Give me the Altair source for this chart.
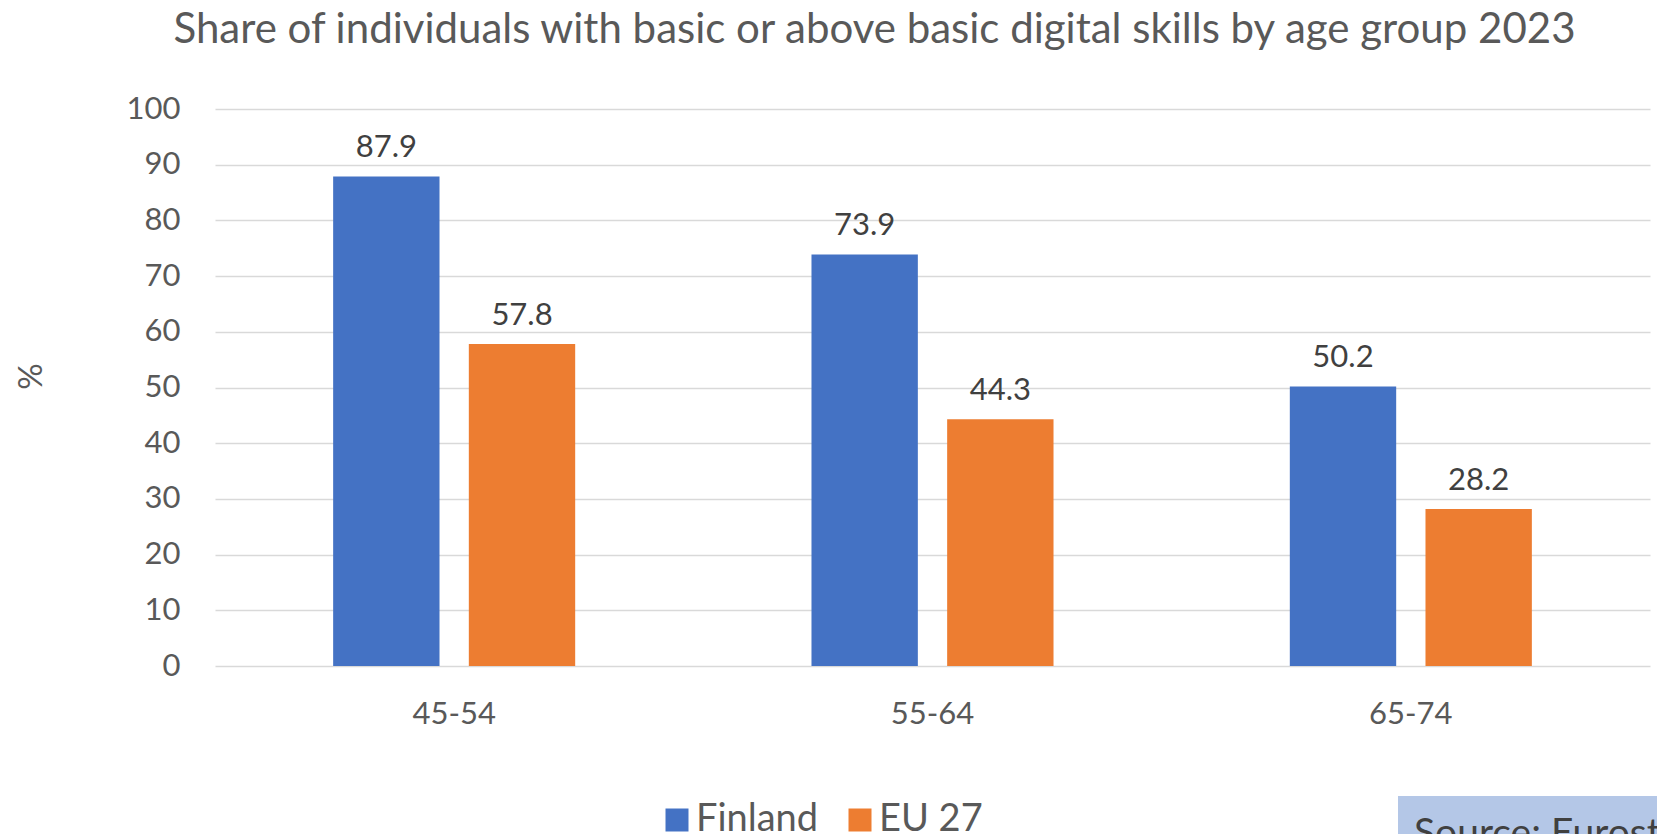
import altair as alt
import pandas as pd

age_groups = ["45-54", "55-64", "65-74"]
series = ["Finland", "EU 27"]
finland = [87.9, 73.9, 50.2]
eu27 = [57.8, 44.3, 28.2]
colors = ["#4472C4", "#ED7D31"]
y_ticks = [0, 10, 20, 30, 40, 50, 60, 70, 80, 90, 100]
title_text = "Share of individuals with basic or above basic digital skills by age group 2023"
source_text = "Source: Eurostat"

rows = []
for i, g in enumerate(age_groups):
    rows.append({"age": g, "series": "Finland", "value": finland[i]})
    rows.append({"age": g, "series": "EU 27", "value": eu27[i]})
df = pd.DataFrame(rows)

FONT = "Lato"
TXT = "#595959"

x_enc = alt.X("age:N", sort=age_groups,
              scale=alt.Scale(paddingInner=0.494, paddingOuter=0.247),
              axis=alt.Axis(title=None, labelAngle=0, ticks=False, tickSize=0, domain=False,
                            grid=False,
                            labelFont=FONT, labelFontSize=31, labelColor=TXT,
                            labelBaseline="alphabetic", labelPadding=57))
xoff_enc = alt.XOffset("series:N", sort=series,
                       scale=alt.Scale(paddingInner=0.216, paddingOuter=0))
y_enc = alt.Y("value:Q", scale=alt.Scale(domain=[0, 100], nice=False),
              axis=alt.Axis(values=y_ticks, title="%", titleAngle=270,
                            titleX=-184, titleY=267, titleAlign="center",
                            titleBaseline="middle", titleFont=FONT, titleFontSize=33,
                            titleFontWeight="normal", titleColor=TXT,
                            labelFont=FONT, labelFontSize=31, labelColor=TXT,
                            labelPadding=35, ticks=False, tickSize=0, domain=False,
                            grid=True, gridColor="#D9D9D9", gridWidth=1.5))

base = alt.Chart(df)

bars = base.mark_bar().encode(
    x=x_enc,
    xOffset=xoff_enc,
    y=y_enc,
    color=alt.Color("series:N", sort=series,
                    scale=alt.Scale(domain=series, range=colors),
                    legend=alt.Legend(title=None, orient="none", direction="horizontal",
                                      legendX=443, legendY=692, padding=0,
                                      symbolType="square", symbolSize=529,
                                      symbolStrokeWidth=0, symbolOpacity=1,
                                      labelFont=FONT, labelFontSize=38, labelColor=TXT,
                                      labelOffset=0, columnPadding=22)),
)

labels = base.mark_text(font=FONT, fontSize=31, color="#404040",
                        baseline="alphabetic", dy=-19).encode(
    x=alt.X("age:N", sort=age_groups),
    xOffset=alt.XOffset("series:N", sort=series),
    y="value:Q",
    text=alt.Text("value:Q", format=".1f"),
)

src_df = pd.DataFrame({"t": [source_text]})
src_box = alt.Chart(src_df).mark_rect(color="#B4C7E7").encode(
    x=alt.value(1183), x2=alt.value(1600), y=alt.value(687), y2=alt.value(800)
)
src_txt = alt.Chart(src_df).mark_text(font=FONT, fontSize=39, color="#404040",
                                      align="left", baseline="alphabetic").encode(
    x=alt.value(1199), y=alt.value(737), text="t:N"
)

chart = alt.layer(bars, labels, src_box, src_txt).properties(
    width=1435, height=557,
    title=alt.TitleParams(title_text, font=FONT, fontSize=42, fontWeight="normal",
                          color=TXT, anchor="middle", frame="group",
                          baseline="alphabetic", offset=8, dx=-58),
    autosize=alt.AutoSizeParams(type="none"),
    padding={"left": 215, "top": 109, "right": 7, "bottom": 168},
    background="white",
).configure_view(stroke=None)

chart.save("out.html", embed_options={"renderer": "svg", "actions": False})
